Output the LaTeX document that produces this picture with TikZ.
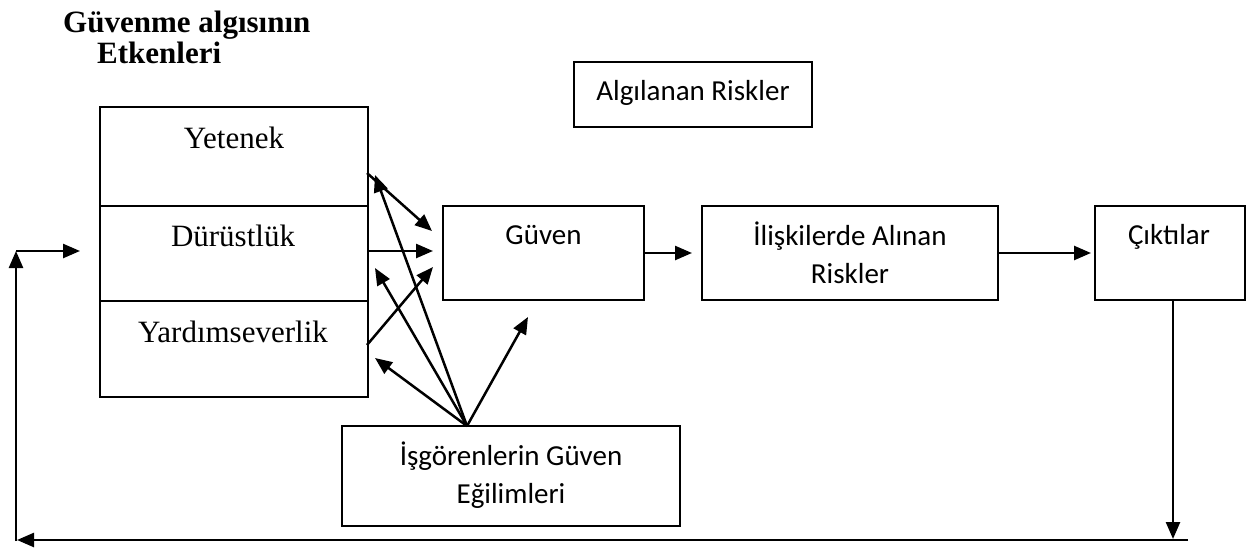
\documentclass[tikz,border=0pt]{standalone}
\usepackage{fontspec}
\setmainfont{Liberation Serif}
\newfontfamily\calfont{Carlito}
\usetikzlibrary{arrows.meta}
\begin{document}
\begin{tikzpicture}[x=1pt,y=-1pt,
  box/.style={draw,line width=2pt,rectangle,inner sep=0pt},
  serif/.style={font=\fontsize{31}{36}\selectfont,inner sep=0pt,anchor=base},
  headline/.style={font=\bfseries\fontsize{31}{36}\selectfont,inner sep=0pt,anchor=base west},
  cal/.style={font=\calfont\fontsize{29}{38}\selectfont,inner sep=0pt,anchor=base,align=center},
  arr/.style={line width=2.5pt,-{Triangle[length=17pt,width=14pt]}}]
\useasboundingbox (0,0) rectangle (1254,549);

% heading
\node[headline] (t1) at (63,32) {Güvenme algısının};
\node[headline] (t2) at (97,63) {Etkenleri};

% boxes
\node[box,minimum width=268pt,minimum height=99pt] (yet) at (234,156.5) {};
\node[box,minimum width=268pt,minimum height=95pt] (dur) at (234,253.5) {};
\node[box,minimum width=268pt,minimum height=96pt] (yar) at (234,349) {};
\node[box,minimum width=201pt,minimum height=94pt] (guv) at (543.5,253) {};
\node[box,minimum width=296pt,minimum height=94pt] (ilis) at (850,253) {};
\node[box,minimum width=150pt,minimum height=94pt] (cik) at (1170,253) {};
\node[box,minimum width=238pt,minimum height=65pt] (alg) at (693,94.5) {};
\node[box,minimum width=338pt,minimum height=100pt] (isg) at (511,476) {};

% labels (two-line labels are placed by the baseline of their last line)
\node[serif] (lyet) at (234,148) {Yetenek};
\node[serif] (ldur) at (233,246) {Dürüstlük};
\node[serif] (lyar) at (233,342) {Yardımseverlik};
\node[cal] (lguv) at (543.5,244) {Güven};
\node[cal] (lilis) at (850,283) {İlişkilerde Alınan\\Riskler};
\node[cal] (lcik) at (1169,244) {Çıktılar};
\node[cal] (lalg) at (693,100) {Algılanan Riskler};
\node[cal] (lisg) at (511,503) {İşgörenlerin Güven\\Eğilimleri};

% connector end points
\coordinate (yetout) at (367,173);
\coordinate (durout) at (367,251);
\coordinate (yarout) at (367,345);
\coordinate (guvin1) at (432,231);
\coordinate (guvin2) at (433,251);
\coordinate (guvin3) at (433,267);
\coordinate (src) at (467,426);
\coordinate (tyet) at (375,175);
\coordinate (tdur) at (375,268);
\coordinate (tyar) at (375,358);
\coordinate (tguv) at (528,317);
\coordinate (cikdown) at (1173,300);
\coordinate (fbdrop) at (1173,539);
\coordinate (fbright) at (1188,540);
\coordinate (fbleft) at (17,540);
\coordinate (fbcorner) at (16,541);
\coordinate (fbup) at (16,251);
\coordinate (fbin) at (80,251);

% factors into trust
\draw[arr] (yetout) -- (guvin1);
\draw[arr] (durout) -- (guvin2);
\draw[arr] (yarout) -- (guvin3);

% propensity to trust
\draw[arr] (src) -- (tyet);
\draw[arr] (src) -- (tdur);
\draw[arr] (src) -- (tyar);
\draw[arr] (src) -- (tguv);

% main chain
\draw[arr] (guv.east) -- ([xshift=-9pt]ilis.west);
\draw[arr] (ilis.east) -- ([xshift=-3pt]cik.west);

% feedback loop
\draw[arr] (cikdown) -- (fbdrop);
\draw[arr] (fbright) -- (fbleft);
\draw[arr] (fbcorner) -- (fbup);
\draw[arr] (fbup) -- (fbin);
\end{tikzpicture}
\end{document}
